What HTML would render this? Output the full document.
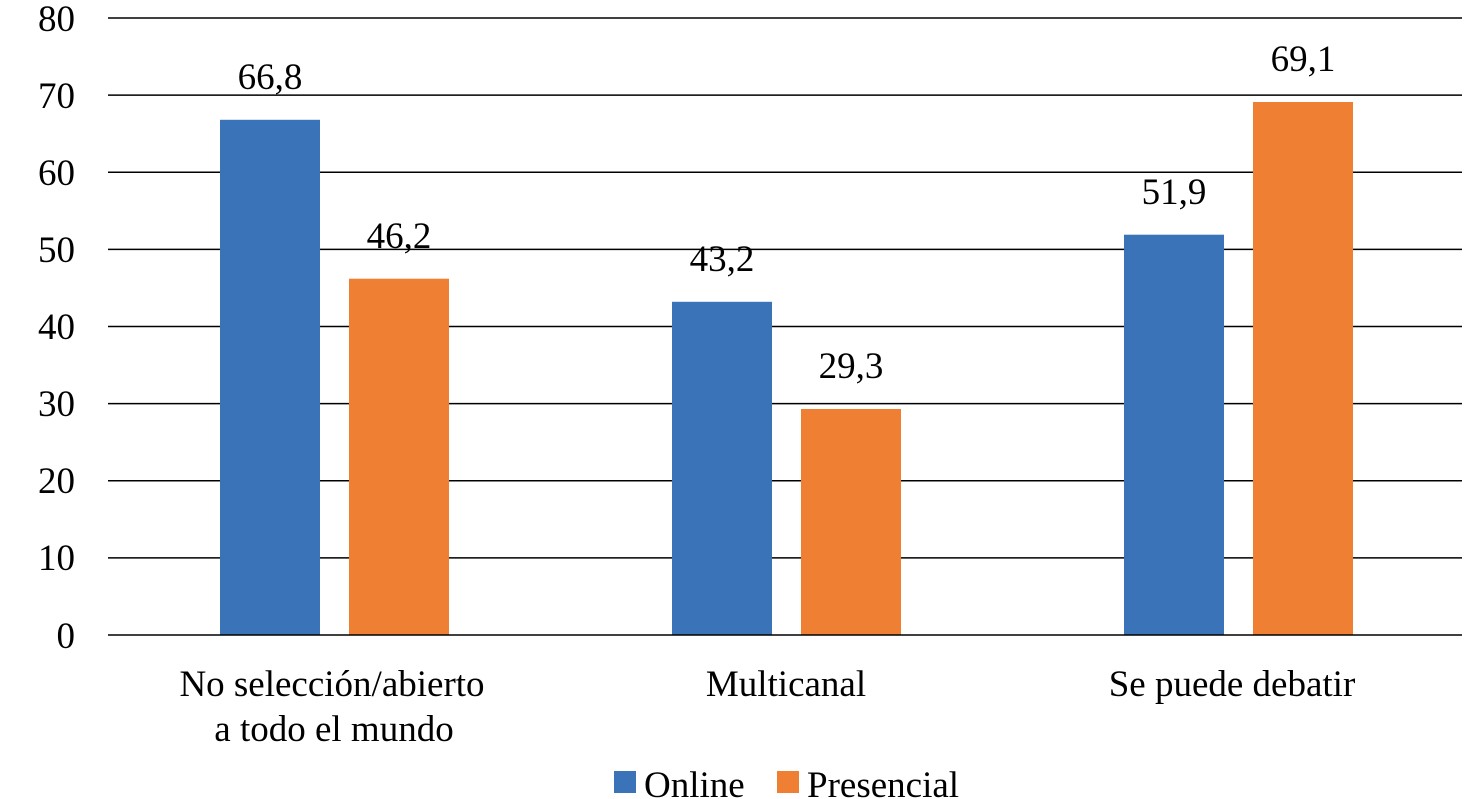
<!DOCTYPE html>
<html><head><meta charset="utf-8"><style>
html,body{margin:0;padding:0;background:#fff;}
svg{display:block;font-family:"Liberation Serif",serif;}
</style></head><body>
<svg width="1468" height="799" viewBox="0 0 1468 799">
<g stroke="#000" stroke-width="1.5">
<line x1="108" x2="1462" y1="18" y2="18"/>
<line x1="108" x2="1462" y1="95.1" y2="95.1"/>
<line x1="108" x2="1462" y1="172.2" y2="172.2"/>
<line x1="108" x2="1462" y1="249.4" y2="249.4"/>
<line x1="108" x2="1462" y1="326.5" y2="326.5"/>
<line x1="108" x2="1462" y1="403.6" y2="403.6"/>
<line x1="108" x2="1462" y1="480.7" y2="480.7"/>
<line x1="108" x2="1462" y1="557.9" y2="557.9"/>
</g>
<g fill="#3a73b8">
<rect x="220" y="119.8" width="100" height="515.2"/>
<rect x="672" y="301.8" width="100" height="333.2"/>
<rect x="1124" y="234.7" width="100" height="400.3"/>
</g>
<g fill="#ef7f32">
<rect x="349" y="278.7" width="100" height="356.3"/>
<rect x="801" y="409" width="100" height="226"/>
<rect x="1253" y="102" width="100" height="533"/>
</g>
<line x1="108" x2="1462" y1="635" y2="635" stroke="#000" stroke-width="1.5"/>
<g font-size="37" text-anchor="end" fill="#000">
<text x="75" y="31">80</text><text x="75" y="108">70</text><text x="75" y="185">60</text>
<text x="75" y="262">50</text><text x="75" y="339">40</text><text x="75" y="416">30</text>
<text x="75" y="493">20</text><text x="75" y="570">10</text><text x="75" y="648">0</text>
</g>
<g font-size="37" text-anchor="middle" fill="#000">
<text x="270" y="89">66,8</text><text x="399" y="248">46,2</text>
<text x="722" y="271">43,2</text><text x="851" y="378">29,3</text>
<text x="1174" y="204">51,9</text><text x="1303" y="71">69,1</text>
<text x="332" y="696">No selección/abierto</text><text x="334" y="741">a todo el mundo</text>
<text x="786" y="696">Multicanal</text>
<text x="1232" y="696">Se puede debatir</text>
</g>
<rect x="614" y="771" width="22" height="22" fill="#3a73b8"/>
<text x="644" y="797" font-size="37">Online</text>
<rect x="777" y="771" width="22" height="22" fill="#ef7f32"/>
<text x="807" y="797" font-size="37">Presencial</text>
</svg>
</body></html>
